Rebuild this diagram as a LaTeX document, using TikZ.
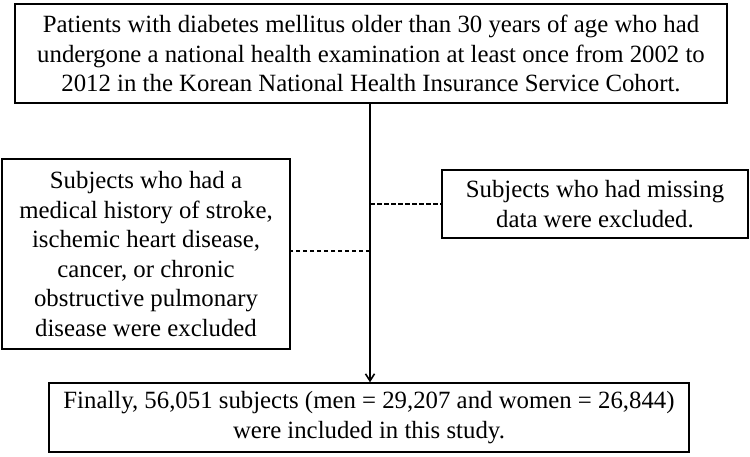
\documentclass[tikz,border=0pt]{standalone}
\usetikzlibrary{arrows.meta}
\usepackage{fontspec}
\setmainfont{Liberation Serif}
\begin{document}
\begin{tikzpicture}[x=1pt,y=-1pt,
  box/.style={draw=black,line width=1.4pt,align=center,inner sep=0pt,
    font=\fontsize{24.8}{29.5}\selectfont},
  dashline/.style={line width=1.3pt,dash pattern=on 4.5pt off 2.5pt},
  mainline/.style={line width=1.6pt}]
\useasboundingbox (0,0) rectangle (750,457);
\node[box,minimum width=712pt,minimum height=99pt] (top) at (371,53.5)
  {Patients with diabetes mellitus older than 30 years of age who had\\
   undergone a national health examination at least once from 2002 to\\
   2012 in the Korean National Health Insurance Service Cohort.};
\node[box,minimum width=288pt,minimum height=190pt] (left) at (146,254)
  {Subjects who had a\\ medical history of stroke,\\ ischemic heart disease,\\
   cancer, or chronic\\ obstructive pulmonary\\ disease were excluded};
\node[box,minimum width=306pt,minimum height=68pt] (right) at (595,204)
  {Subjects who had missing\\ data were excluded.};
\node[box,minimum width=640pt,minimum height=69pt] (bot) at (369,417.5)
  {Finally, 56,051 subjects (men = 29,207 and women = 26,844)\\
   were included in this study.};
\coordinate (jr) at (370,204);
\coordinate (jl) at (370,251);
\draw[mainline,-{Straight Barb[length=7pt,width=9pt]}] (top.south -| jr) -- (bot.north -| jr);
\draw[dashline] (jr) -- (right.west |- jr);
\draw[dashline] (jl) -- (left.east |- jl);
\end{tikzpicture}
\end{document}
